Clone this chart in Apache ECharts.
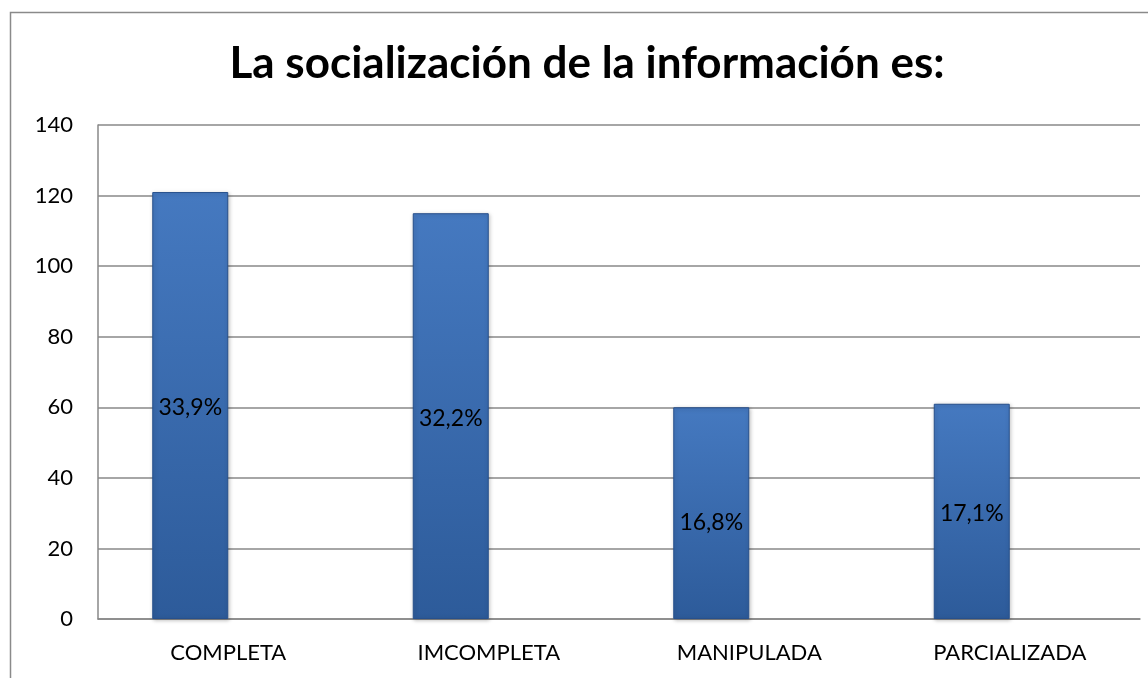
<!DOCTYPE html>
<html>
<head>
<meta charset="utf-8">
<script src="https://cdn.jsdelivr.net/npm/echarts@6/dist/echarts.min.js"></script>
<style>
  html, body { margin: 0; padding: 0; background: #fff; }
  #chart { width: 1148px; height: 678px; }
</style>
</head>
<body>
<div id="chart"></div>
<script>
const categories = ['COMPLETA', 'IMCOMPLETA', 'MANIPULADA', 'PARCIALIZADA']
const counts = [121, 115, 60, 61]
const percentLabels = ['33,9%', '32,2%', '16,8%', '17,1%']
const labelOffsets = [2, 2, 9, 2]

const chart = echarts.init(document.getElementById('chart'))

const barColor = new echarts.graphic.LinearGradient(0, 0, 0, 1, [
    { offset: 0, color: '#4579c0' },
    { offset: 1, color: '#2d5b9a' },
])

chart.setOption({
    animation: false,
    textStyle: { fontFamily: 'Lato' },
    title: {
        text: 'La socialización de la información es:',
        left: 582,
        textAlign: 'center',
        top: 37,
        textStyle: { fontFamily: 'Lato', fontWeight: 'bold', fontSize: 44, color: '#000' },
    },
    graphic: [
        {
            type: 'rect',
            silent: true,
            shape: { x: 10.5, y: 12.5, width: 1300, height: 900 },
            style: { fill: 'none', stroke: '#8a8a8a', lineWidth: 1.5 },
        },
    ],
    grid: { left: 98, right: 8, top: 125, bottom: 59 },
    xAxis: {
        type: 'category',
        data: categories,
        axisLine: { lineStyle: { color: '#888', width: 1.5 } },
        axisTick: { show: false },
        axisLabel: { color: '#000', fontSize: 22, margin: 23 },
    },
    yAxis: {
        type: 'value',
        min: 0,
        max: 140,
        interval: 20,
        axisLine: { show: true, lineStyle: { color: '#888', width: 1.5 } },
        axisTick: { show: false },
        axisLabel: { color: '#000', fontSize: 22, margin: 25 },
        splitLine: { lineStyle: { color: '#888', width: 1.5 } },
    },
    series: [
        {
            type: 'bar',
            barWidth: 76,
            barGap: '0%',
            data: counts.map((v, i) => ({
                value: v,
                label: { offset: [0, labelOffsets[i]] },
            })),
            itemStyle: {
                color: barColor,
                borderColor: '#27508c',
                borderWidth: 1,
                shadowColor: 'rgba(0,0,0,0.25)',
                shadowBlur: 4,
                shadowOffsetX: 1,
                shadowOffsetY: 1,
            },
            label: {
                show: true,
                position: 'inside',
                color: '#000',
                fontSize: 23,
                formatter: (p) => percentLabels[p.dataIndex],
            },
        },
        {
            // empty companion series, keeps the bars left of each category centre
            type: 'bar',
            barWidth: 76,
            data: [],
        },
    ],
})
</script>
</body>
</html>
